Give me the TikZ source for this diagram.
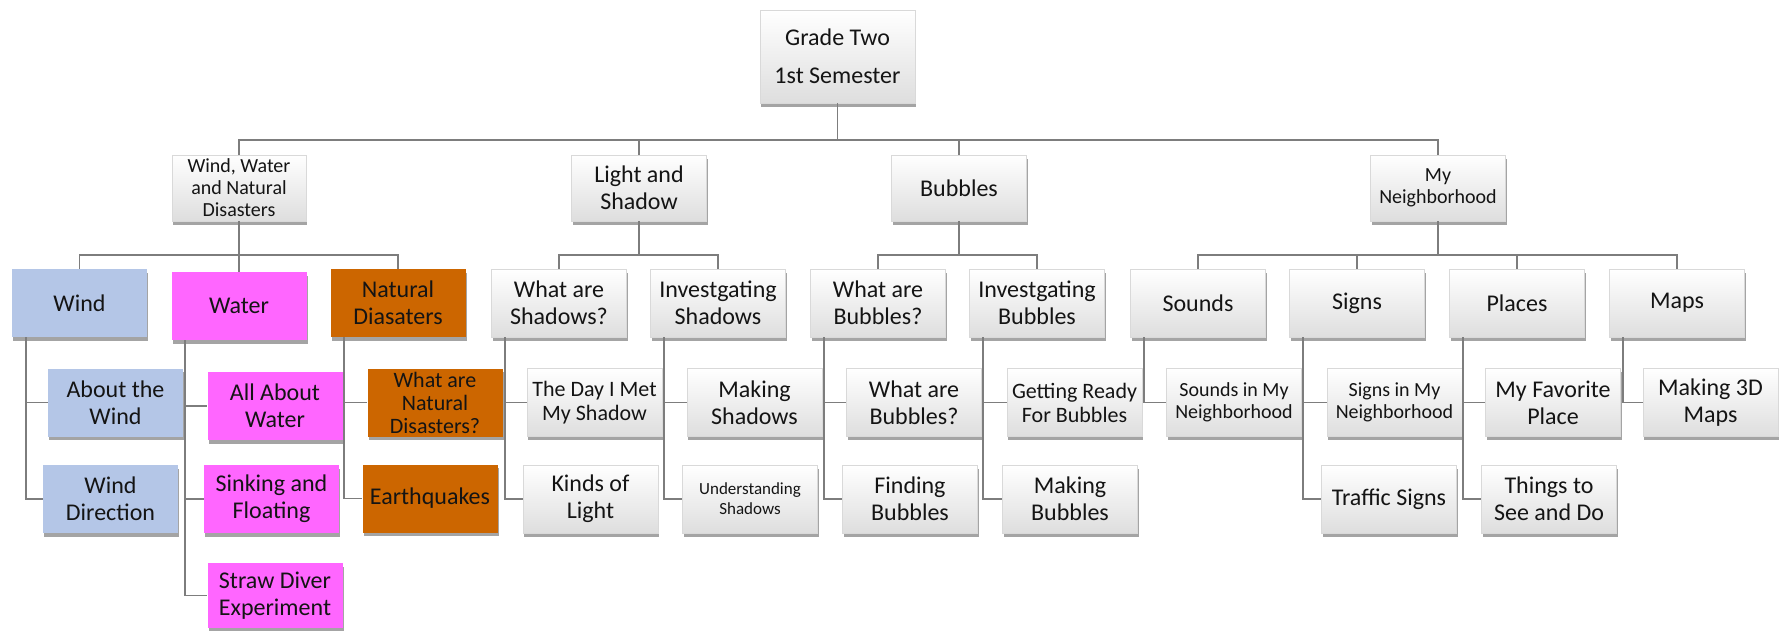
\documentclass[tikz,border=0pt]{standalone}
\usepackage{fontspec}
\setmainfont{Carlito}
\usetikzlibrary{shadows}
\definecolor{windc}{RGB}{180,198,231}
\definecolor{waterc}{RGB}{255,102,255}
\definecolor{natc}{RGB}{204,102,0}
\definecolor{txt}{RGB}{20,20,20}
\definecolor{linec}{RGB}{125,125,125}
\begin{document}
\begin{tikzpicture}[x=1pt,y=-1pt,
  box/.style={rectangle, minimum width=135pt, minimum height=68pt, inner sep=1pt, align=center, text=txt,
    drop shadow={shadow xshift=1pt, shadow yshift=-3.5pt, opacity=0.55, fill=black!65}},
  wbox/.style={box, draw=black!15, line width=0.6pt, top color=white, bottom color=black!13},
  bluebox/.style={box, fill=windc},
  magbox/.style={box, fill=waterc},
  orbox/.style={box, fill=natc},
  fA/.style={font=\fontsize{24}{27}\selectfont},
  fB/.style={font=\fontsize{22}{24}\selectfont},
  fC/.style={font=\fontsize{20}{22}\selectfont},
  fD/.style={font=\fontsize{17}{20}\selectfont},
  conn/.style={draw=linec, line width=1.8pt}
]
\useasboundingbox (0,0) rectangle (1781,630);
\coordinate (b0) at (0,140);
\coordinate (b1) at (0,255);

% root
\node[wbox, fA, font=\fontsize{24}{38}\selectfont, minimum width=155pt, minimum height=93pt] (root) at (837.5,56.5) {Grade Two\\1st Semester};

% level 1
\node[wbox, fC, minimum width=134pt, minimum height=66pt] (wwnd) at (239,188) {Wind, Water\\and Natural\\Disasters};
\node[wbox, fA, minimum height=66pt] (ls) at (639,188) {Light and\\Shadow};
\node[wbox, fA, minimum height=66pt] (bub) at (959,188) {Bubbles};
\node[wbox, fC, minimum height=66pt] (myn) at (1438,188) {My\\Neighborhood};

% level 2
\node[bluebox, fA] (wind) at (79.5,303) {Wind};
\node[magbox, fA] (water) at (239,306) {Water};
\node[orbox, fA] (natural) at (398,303) {Natural\\Diasaters};
\node[wbox, fA] (was) at (559,303) {What are\\Shadows?};
\node[wbox, fA] (is) at (718,303) {Investgating\\Shadows};
\node[wbox, fA] (wab) at (878,303) {What are\\Bubbles?};
\node[wbox, fA] (ib) at (1037,303) {Investgating\\Bubbles};
\node[wbox, fA] (sounds) at (1198,303) {Sounds};
\node[wbox, fA] (signs) at (1357,303) {Signs};
\node[wbox, fA] (places) at (1517,303) {Places};
\node[wbox, fA] (maps) at (1677,303) {Maps};

% level 3
\node[bluebox, fA] (abw) at (115.5,402.5) {About the\\Wind};
\node[magbox, fA] (aaw) at (275,406) {All About\\Water};
\node[orbox, fB, font=\fontsize{22}{23}\selectfont] (wand) at (435,402.5) {What are\\Natural\\Disasters?};
\node[wbox, fB] (tdim) at (594.5,402.5) {The Day I Met\\My Shadow};
\node[wbox, fA] (mks) at (754.5,402.5) {Making\\Shadows};
\node[wbox, fA] (wabc) at (914,402.5) {What are\\Bubbles?};
\node[wbox, fB] (grb) at (1074.5,402.5) {Getting Ready\\For Bubbles};
\node[wbox, fC] (sinm) at (1234,402.5) {Sounds in My\\Neighborhood};
\node[wbox, fC] (signm) at (1394.5,402.5) {Signs in My\\Neighborhood};
\node[wbox, fA] (mfp) at (1553,402.5) {My Favorite\\Place};
\node[wbox, fA] (m3d) at (1710.5,402.5) {Making 3D\\Maps};

% level 4
\node[bluebox, fA] (wdir) at (110.5,499) {Wind\\Direction};
\node[magbox, fA] (sf) at (271.5,499) {Sinking and\\Floating};
\node[orbox, fA] (eq) at (430,498.5) {Earthquakes};
\node[wbox, fA] (kol) at (590.5,499) {Kinds of\\Light};
\node[wbox, fD] (us) at (750,499) {Understanding\\Shadows};
\node[wbox, fA] (fb) at (910,499) {Finding\\Bubbles};
\node[wbox, fA] (mb) at (1070,499) {Making\\Bubbles};
\node[wbox, fA] (ts) at (1389,499) {Traffic Signs};
\node[wbox, fA] (tsd) at (1549,499) {Things to\\See and Do};

% level 5
\node[magbox, fA, minimum height=65pt] (sd) at (275,595.5) {Straw Diver\\Experiment};

% root to level 1
\foreach \c in {wwnd,ls,bub,myn}
  \draw[conn] (\c.north) -- (\c.north |- b0) -| (root.south);

% level 1 to level 2
\foreach \p/\c in {wwnd/wind,wwnd/water,wwnd/natural,ls/was,ls/is,bub/wab,bub/ib,myn/sounds,myn/signs,myn/places,myn/maps}
  \draw[conn] (\c.north) -- (\c.north |- b1) -| (\p.south);

% level 2 to lower levels
\foreach \p/\c in {wind/abw,wind/wdir,water/aaw,water/sf,water/sd,natural/wand,natural/eq,was/tdim,was/kol,is/mks,is/us,wab/wabc,wab/fb,ib/grb,ib/mb,sounds/sinm,signs/signm,signs/ts,places/mfp,places/tsd,maps/m3d}
  \draw[conn] ([xshift=14pt]\p.south west) |- (\c.west);

\end{tikzpicture}
\end{document}
